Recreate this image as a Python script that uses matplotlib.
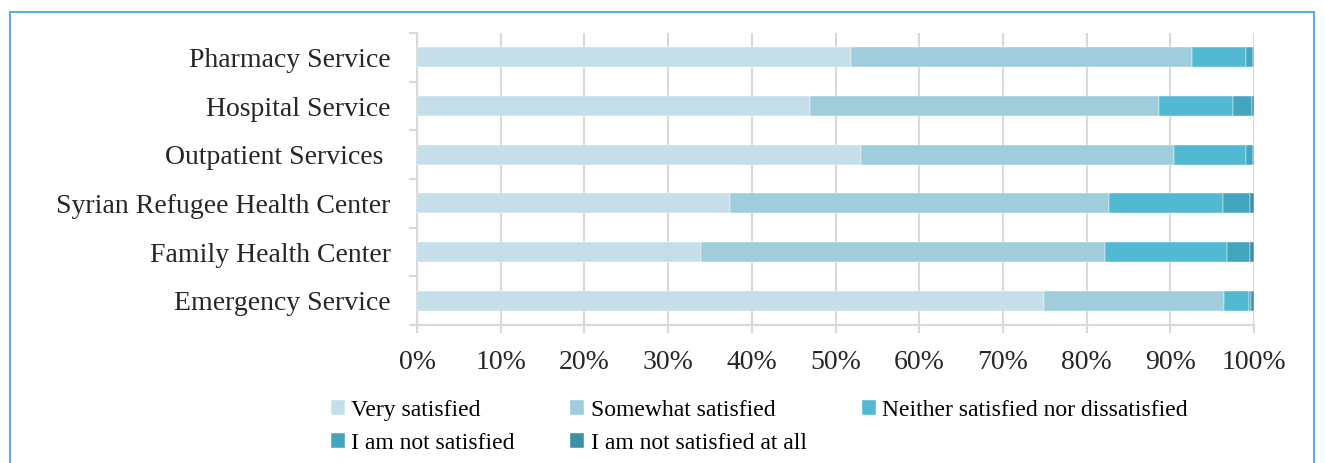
import matplotlib
matplotlib.use("Agg")
import matplotlib.pyplot as plt
from matplotlib.patches import Rectangle
from matplotlib.ticker import FuncFormatter
import numpy as np

# Services, listed bottom to top as drawn
services = [
    "Emergency Service",
    "Family Health Center",
    "Syrian Refugee Health Center",
    "Outpatient Services ",
    "Hospital Service",
    "Pharmacy Service",
]

levels = [
    "Very satisfied",
    "Somewhat satisfied",
    "Neither satisfied nor dissatisfied",
    "I am not satisfied",
    "I am not satisfied at all",
]

# Share of respondents (%) per satisfaction level, same order as services
very_satisfied = [74.9, 33.9, 37.4, 53.0, 47.0, 51.8]
somewhat_satisfied = [21.5, 48.3, 45.3, 37.4, 41.6, 40.8]
neither = [3.0, 14.6, 13.6, 8.6, 8.9, 6.4]
not_satisfied = [0.3, 2.7, 3.2, 0.9, 2.3, 0.9]
not_satisfied_at_all = [0.3, 0.5, 0.5, 0.1, 0.2, 0.1]

x_ticks = [0, 10, 20, 30, 40, 50, 60, 70, 80, 90, 100]

colors = ["#C5DFEA", "#9FCDDC", "#52B9D2", "#43A5BE", "#3C91A3"]
grid_color = "#D9D9D9"
serif = ["Liberation Serif", "DejaVu Serif"]

series = [very_satisfied, somewhat_satisfied, neither, not_satisfied, not_satisfied_at_all]

W, H = 1325, 463
fig = plt.figure(figsize=(W / 100, H / 100), dpi=100)
ax = fig.add_axes([417 / W, 1 - 325 / H, (1254 - 417) / W, (325 - 33) / H])

y = np.arange(len(services))
left = np.zeros(len(services))
handles = []
for vals, col, lab in zip(series, colors, levels):
    v = np.array(vals)
    b = ax.barh(y, v, left=left, height=0.41, color=col, label=lab,
                edgecolor="white", linewidth=0.3, zorder=3)
    handles.append(b)
    left += v

ax.set_xlim(0, 100)
ax.set_ylim(-0.5, len(services) - 0.5)

ax.set_xticks(x_ticks)
ax.xaxis.set_major_formatter(FuncFormatter(lambda v, p: f"{int(v)}%"))
ax.grid(axis="x", color=grid_color, linewidth=1.5, zorder=0)
ax.set_axisbelow(True)

ax.set_yticks(y)
ax.set_yticklabels(services)
ax.set_yticks(np.arange(-0.5, len(services), 1.0), minor=True)

ax.tick_params(axis="x", which="major", length=6, width=1.5, color=grid_color,
               pad=12, labelsize=20, labelcolor="#262626")
ax.tick_params(axis="y", which="major", length=0, pad=19, labelsize=20,
               labelcolor="#262626")
ax.tick_params(axis="y", which="minor", length=6, width=1.5, color=grid_color)

for lab in ax.get_xticklabels() + ax.get_yticklabels():
    lab.set_fontfamily(serif)

for s in ["top", "right"]:
    ax.spines[s].set_visible(False)
for s in ["left", "bottom"]:
    ax.spines[s].set_color(grid_color)
    ax.spines[s].set_linewidth(1.5)

# Legend laid out row by row across three columns
order = [0, 3, 1, 4, 2]
leg = fig.legend([handles[i] for i in order], [levels[i] for i in order],
                 loc="upper left", bbox_to_anchor=(331 / W, 1 - 400 / H),
                 bbox_transform=fig.transFigure, ncol=3, frameon=False,
                 prop={"family": serif, "size": 17},
                 handlelength=0.58, handleheight=0.58, handletextpad=0.28,
                 columnspacing=2.35, labelspacing=0.5, borderpad=0,
                 borderaxespad=0)

# Outer chart frame
fig.patches.append(Rectangle((10 / W, -0.05), (1314 - 10) / W, 1.05 - 12 / H,
                             transform=fig.transFigure, fill=False,
                             edgecolor="#5AAEE0", linewidth=1.5))

fig.savefig("out.png", dpi=100)
